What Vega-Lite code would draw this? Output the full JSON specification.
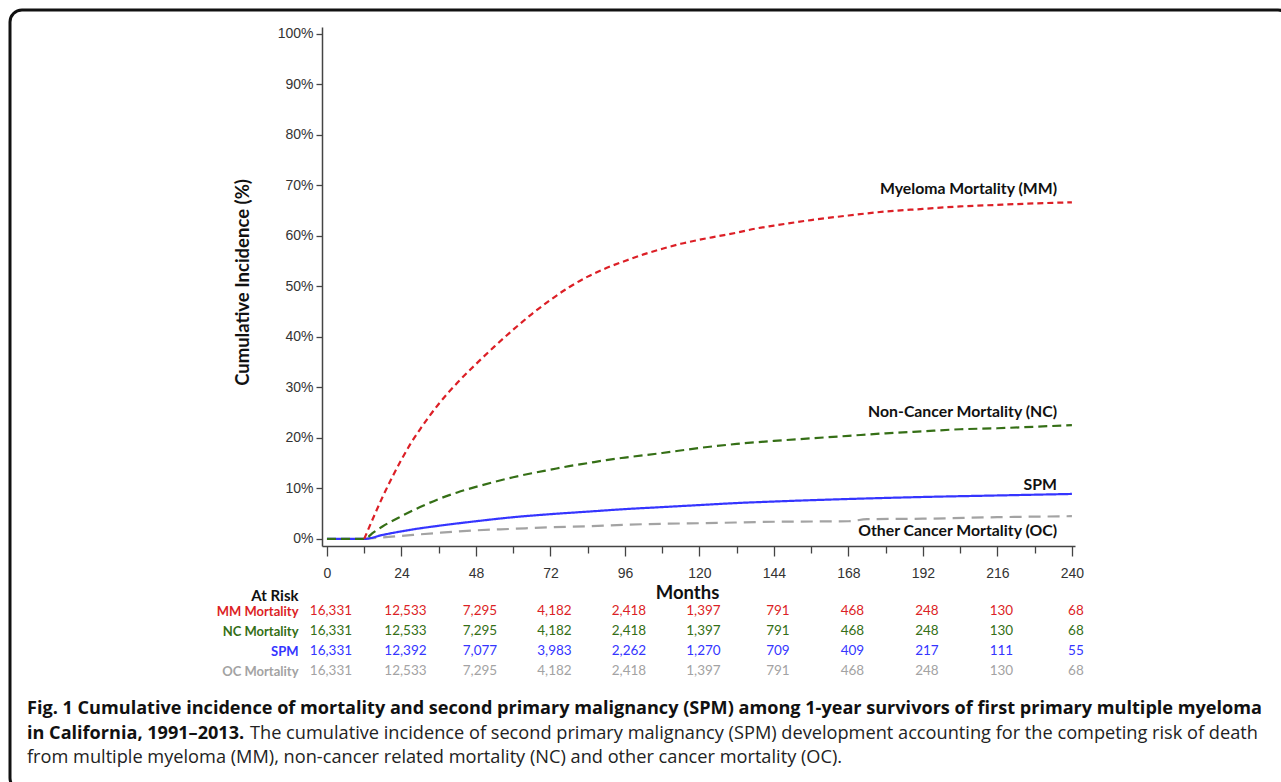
{
  "$schema": "https://vega.github.io/schema/vega-lite/v6.json",
  "width": 1280,
  "height": 780,
  "autosize": {"type": "none"},
  "padding": {"left": 10, "top": 10, "right": -9, "bottom": -8},
  "background": "white",
  "config": {
    "view": {"stroke": "#111111", "strokeWidth": 3, "cornerRadius": 12},
    "axis": {"grid": false}
  },
  "datasets": {
    "curves": [
      {"series": "OC", "month": 12, "pct": 0}, {"series": "OC", "month": 18, "pct": 0.3}, {"series": "OC", "month": 24, "pct": 0.6},
      {"series": "OC", "month": 36, "pct": 1.2}, {"series": "OC", "month": 48, "pct": 1.7}, {"series": "OC", "month": 60, "pct": 2.0},
      {"series": "OC", "month": 72, "pct": 2.3}, {"series": "OC", "month": 84, "pct": 2.5}, {"series": "OC", "month": 96, "pct": 2.8},
      {"series": "OC", "month": 108, "pct": 3.0}, {"series": "OC", "month": 120, "pct": 3.1}, {"series": "OC", "month": 144, "pct": 3.4},
      {"series": "OC", "month": 168, "pct": 3.5}, {"series": "OC", "month": 174, "pct": 3.9}, {"series": "OC", "month": 192, "pct": 4.0},
      {"series": "OC", "month": 216, "pct": 4.3}, {"series": "OC", "month": 240, "pct": 4.5},

      {"series": "SPM", "month": 0, "pct": 0}, {"series": "SPM", "month": 12, "pct": 0}, {"series": "SPM", "month": 18, "pct": 0.8},
      {"series": "SPM", "month": 24, "pct": 1.5}, {"series": "SPM", "month": 30, "pct": 2.1}, {"series": "SPM", "month": 36, "pct": 2.6},
      {"series": "SPM", "month": 48, "pct": 3.5}, {"series": "SPM", "month": 60, "pct": 4.3}, {"series": "SPM", "month": 72, "pct": 4.9},
      {"series": "SPM", "month": 84, "pct": 5.4}, {"series": "SPM", "month": 96, "pct": 5.9}, {"series": "SPM", "month": 108, "pct": 6.3},
      {"series": "SPM", "month": 120, "pct": 6.7}, {"series": "SPM", "month": 132, "pct": 7.1}, {"series": "SPM", "month": 144, "pct": 7.4},
      {"series": "SPM", "month": 168, "pct": 7.9}, {"series": "SPM", "month": 192, "pct": 8.3}, {"series": "SPM", "month": 216, "pct": 8.6},
      {"series": "SPM", "month": 240, "pct": 8.9},

      {"series": "NC", "month": 0, "pct": 0}, {"series": "NC", "month": 12, "pct": 0}, {"series": "NC", "month": 15, "pct": 1.3},
      {"series": "NC", "month": 18, "pct": 2.5}, {"series": "NC", "month": 24, "pct": 4.5}, {"series": "NC", "month": 30, "pct": 6.3},
      {"series": "NC", "month": 36, "pct": 7.9}, {"series": "NC", "month": 42, "pct": 9.2}, {"series": "NC", "month": 48, "pct": 10.3},
      {"series": "NC", "month": 54, "pct": 11.3}, {"series": "NC", "month": 60, "pct": 12.2}, {"series": "NC", "month": 66, "pct": 13.0},
      {"series": "NC", "month": 72, "pct": 13.7}, {"series": "NC", "month": 78, "pct": 14.4}, {"series": "NC", "month": 84, "pct": 15.0},
      {"series": "NC", "month": 90, "pct": 15.6}, {"series": "NC", "month": 96, "pct": 16.1}, {"series": "NC", "month": 108, "pct": 17.0},
      {"series": "NC", "month": 120, "pct": 18.0}, {"series": "NC", "month": 132, "pct": 18.8}, {"series": "NC", "month": 144, "pct": 19.4},
      {"series": "NC", "month": 156, "pct": 19.9}, {"series": "NC", "month": 168, "pct": 20.4}, {"series": "NC", "month": 180, "pct": 20.9},
      {"series": "NC", "month": 192, "pct": 21.3}, {"series": "NC", "month": 204, "pct": 21.7}, {"series": "NC", "month": 216, "pct": 21.9},
      {"series": "NC", "month": 228, "pct": 22.2}, {"series": "NC", "month": 240, "pct": 22.5},

      {"series": "MM", "month": 12, "pct": 0}, {"series": "MM", "month": 15, "pct": 4.3}, {"series": "MM", "month": 18, "pct": 8.4},
      {"series": "MM", "month": 21, "pct": 12.2}, {"series": "MM", "month": 24, "pct": 15.7}, {"series": "MM", "month": 27, "pct": 18.9},
      {"series": "MM", "month": 30, "pct": 21.7}, {"series": "MM", "month": 33, "pct": 24.3}, {"series": "MM", "month": 36, "pct": 26.7},
      {"series": "MM", "month": 42, "pct": 30.9}, {"series": "MM", "month": 48, "pct": 34.6}, {"series": "MM", "month": 54, "pct": 38.1},
      {"series": "MM", "month": 60, "pct": 41.4}, {"series": "MM", "month": 66, "pct": 44.5}, {"series": "MM", "month": 72, "pct": 47.3},
      {"series": "MM", "month": 78, "pct": 49.8}, {"series": "MM", "month": 84, "pct": 51.9}, {"series": "MM", "month": 90, "pct": 53.6},
      {"series": "MM", "month": 96, "pct": 55.0}, {"series": "MM", "month": 102, "pct": 56.3}, {"series": "MM", "month": 108, "pct": 57.4},
      {"series": "MM", "month": 114, "pct": 58.4}, {"series": "MM", "month": 120, "pct": 59.2}, {"series": "MM", "month": 126, "pct": 59.9},
      {"series": "MM", "month": 132, "pct": 60.6}, {"series": "MM", "month": 138, "pct": 61.4}, {"series": "MM", "month": 144, "pct": 62.0},
      {"series": "MM", "month": 156, "pct": 63.1}, {"series": "MM", "month": 168, "pct": 64.0}, {"series": "MM", "month": 180, "pct": 64.8},
      {"series": "MM", "month": 192, "pct": 65.3}, {"series": "MM", "month": 204, "pct": 65.8}, {"series": "MM", "month": 216, "pct": 66.1},
      {"series": "MM", "month": 228, "pct": 66.4}, {"series": "MM", "month": 240, "pct": 66.6}
    ],
    "curveLabels": [
      {"label": "Myeloma Mortality (MM)", "month": 235.2, "pct": 69.2},
      {"label": "Non-Cancer Mortality (NC)", "month": 235.2, "pct": 25.2},
      {"label": "SPM", "month": 235.2, "pct": 10.6},
      {"label": "Other Cancer Mortality (OC)", "month": 235.2, "pct": 1.6}
    ],
    "atRisk": [
      {"series": "MM", "month": 0, "n": 16331}, {"series": "MM", "month": 24, "n": 12533}, {"series": "MM", "month": 48, "n": 7295},
      {"series": "MM", "month": 72, "n": 4182}, {"series": "MM", "month": 96, "n": 2418}, {"series": "MM", "month": 120, "n": 1397},
      {"series": "MM", "month": 144, "n": 791}, {"series": "MM", "month": 168, "n": 468}, {"series": "MM", "month": 192, "n": 248},
      {"series": "MM", "month": 216, "n": 130}, {"series": "MM", "month": 240, "n": 68},
      {"series": "NC", "month": 0, "n": 16331}, {"series": "NC", "month": 24, "n": 12533}, {"series": "NC", "month": 48, "n": 7295},
      {"series": "NC", "month": 72, "n": 4182}, {"series": "NC", "month": 96, "n": 2418}, {"series": "NC", "month": 120, "n": 1397},
      {"series": "NC", "month": 144, "n": 791}, {"series": "NC", "month": 168, "n": 468}, {"series": "NC", "month": 192, "n": 248},
      {"series": "NC", "month": 216, "n": 130}, {"series": "NC", "month": 240, "n": 68},
      {"series": "SPM", "month": 0, "n": 16331}, {"series": "SPM", "month": 24, "n": 12392}, {"series": "SPM", "month": 48, "n": 7077},
      {"series": "SPM", "month": 72, "n": 3983}, {"series": "SPM", "month": 96, "n": 2262}, {"series": "SPM", "month": 120, "n": 1270},
      {"series": "SPM", "month": 144, "n": 709}, {"series": "SPM", "month": 168, "n": 409}, {"series": "SPM", "month": 192, "n": 217},
      {"series": "SPM", "month": 216, "n": 111}, {"series": "SPM", "month": 240, "n": 55},
      {"series": "OC", "month": 0, "n": 16331}, {"series": "OC", "month": 24, "n": 12533}, {"series": "OC", "month": 48, "n": 7295},
      {"series": "OC", "month": 72, "n": 4182}, {"series": "OC", "month": 96, "n": 2418}, {"series": "OC", "month": 120, "n": 1397},
      {"series": "OC", "month": 144, "n": 791}, {"series": "OC", "month": 168, "n": 468}, {"series": "OC", "month": 192, "n": 248},
      {"series": "OC", "month": 216, "n": 130}, {"series": "OC", "month": 240, "n": 68}
    ]
  },
  "layer": [
    {
      "layer": [
        {
          "data": {"name": "curves"},
          "mark": {"type": "line", "strokeWidth": 2.2, "interpolate": "monotone"},
          "encoding": {
            "x": {
              "field": "month", "type": "quantitative",
              "scale": {"domain": [-1.6, 241], "range": [312, 1065], "nice": false, "zero": false},
              "axis": {
                "orient": "bottom", "offset": -244,
                "values": [0, 6, 12, 18, 24, 30, 36, 42, 48, 54, 60, 66, 72, 78, 84, 90, 96, 102, 108, 114, 120, 126, 132, 138, 144, 150, 156, 162, 168, 174, 180, 186, 192, 198, 204, 210, 216, 222, 228, 234, 240],
                "labelExpr": "datum.value % 24 === 0 ? '' + datum.value : ''",
                "tickSize": {"condition": {"test": "datum.value % 24 === 0", "value": 10}, "value": 7},
                "tickColor": "#444444", "tickWidth": 1.3,
                "domainColor": "#444444", "domainWidth": 1.5,
                "labelFont": "Liberation Sans", "labelFontSize": 14, "labelColor": "#333333",
                "labelPadding": 10, "labelFlush": false, "labelOverlap": false,
                "title": "Months", "titleFont": "Lato", "titleFontWeight": "bold", "titleFontSize": 18.5, "titleColor": "#111111",
                "titleX": 677, "titleY": 46, "titleBaseline": "middle", "titleAlign": "center"
              }
            },
            "y": {
              "field": "pct", "type": "quantitative",
              "scale": {"domain": [-1.4, 101.3], "range": [536, 17], "nice": false, "zero": false},
              "axis": {
                "orient": "left", "offset": -312,
                "values": [0, 5, 10, 15, 20, 25, 30, 35, 40, 45, 50, 55, 60, 65, 70, 75, 80, 85, 90, 95, 100],
                "labelExpr": "datum.value % 10 === 0 ? datum.value + '%' : ''",
                "tickSize": {"condition": {"test": "datum.value % 10 === 0", "value": 6}, "value": 4},
                "tickColor": "#444444", "tickWidth": 1.3,
                "domainColor": "#444444", "domainWidth": 1.5,
                "labelFont": "Liberation Sans", "labelFontSize": 14, "labelColor": "#333333",
                "labelPadding": 3, "labelOverlap": false, "labelBaseline": "middle",
                "title": "Cumulative Incidence (%)", "titleFont": "Lato", "titleFontWeight": "bold", "titleFontSize": 18.5, "titleColor": "#111111",
                "titleX": -80, "titleY": 272, "titleBaseline": "middle", "titleAlign": "center", "titleAngle": -90
              }
            },
            "color": {
              "field": "series", "type": "nominal", "legend": null,
              "scale": {"domain": ["MM", "NC", "SPM", "OC"], "range": ["#dc1f26", "#356f16", "#3535ff", "#a3a3a3"]}
            },
            "strokeDash": {
              "field": "series", "type": "nominal", "legend": null,
              "scale": {"domain": ["MM", "NC", "SPM", "OC"], "range": [[6, 4], [9, 5], [1, 0], [12, 7]]}
            },
            "order": {"field": "month", "type": "quantitative"}
          }
        },
        {
          "data": {"name": "curveLabels"},
          "mark": {"type": "text", "align": "right", "baseline": "middle", "font": "Lato", "fontWeight": "bold", "fontSize": 15.8, "color": "#111111"},
          "encoding": {
            "x": {"field": "month", "type": "quantitative"},
            "y": {"field": "pct", "type": "quantitative"},
            "text": {"field": "label"}
          }
        }
      ]
    },
    {
      "data": {"name": "atRisk"},
      "mark": {"type": "text", "align": "center", "baseline": "middle", "font": "Lato", "fontSize": 13.5, "dx": 4},
      "encoding": {
        "x": {"field": "month", "type": "quantitative"},
        "y": {
          "field": "series", "type": "nominal",
          "scale": {"type": "point", "domain": ["MM", "NC", "SPM", "OC"], "range": [601, 661], "padding": 0},
          "axis": {
            "orient": "left", "offset": -292,
            "domain": false, "ticks": false, "tickSize": 0, "labelPadding": 4,
            "labelExpr": "{'MM': 'MM Mortality', 'NC': 'NC Mortality', 'SPM': 'SPM', 'OC': 'OC Mortality'}[datum.value]",
            "labelFont": "Lato", "labelFontWeight": "bold", "labelFontSize": 13,
            "labelColor": {
              "condition": [
                {"test": "datum.value === 'MM'", "value": "#dc1f26"},
                {"test": "datum.value === 'NC'", "value": "#356f16"},
                {"test": "datum.value === 'SPM'", "value": "#3535ff"}
              ],
              "value": "#a3a3a3"
            },
            "title": "At Risk", "titleFont": "Lato", "titleFontWeight": "bold", "titleFontSize": 15, "titleColor": "#111111",
            "titleAngle": 0, "titleAlign": "right", "titleBaseline": "middle", "titleX": -4, "titleY": 585
          }
        },
        "text": {"field": "n", "type": "quantitative", "format": ","},
        "color": {"field": "series", "type": "nominal", "legend": null}
      }
    },
    {
      "data": {"values": [{}]},
      "mark": {"type": "text", "x": 17, "y": 699, "align": "left", "baseline": "middle", "font": "Open Sans", "fontWeight": "bold", "fontSize": 18.1, "color": "#111111",
        "text": "Fig. 1 Cumulative incidence of mortality and second primary malignancy (SPM) among 1-year survivors of first primary multiple myeloma"}
    },
    {
      "data": {"values": [{}]},
      "mark": {"type": "text", "x": 17, "y": 724, "align": "left", "baseline": "middle", "font": "Open Sans", "fontWeight": "bold", "fontSize": 18.1, "color": "#111111",
        "text": "in California, 1991–2013."}
    },
    {
      "data": {"values": [{}]},
      "mark": {"type": "text", "x": 240, "y": 724, "align": "left", "baseline": "middle", "font": "Open Sans", "fontSize": 18.2, "color": "#222222",
        "text": "The cumulative incidence of second primary malignancy (SPM) development accounting for the competing risk of death"}
    },
    {
      "data": {"values": [{}]},
      "mark": {"type": "text", "x": 17, "y": 748, "align": "left", "baseline": "middle", "font": "Open Sans", "fontSize": 18.2, "color": "#222222",
        "text": "from multiple myeloma (MM), non-cancer related mortality (NC) and other cancer mortality (OC)."}
    }
  ],
  "resolve": {"scale": {"y": "independent"}, "axis": {"y": "independent"}}
}
